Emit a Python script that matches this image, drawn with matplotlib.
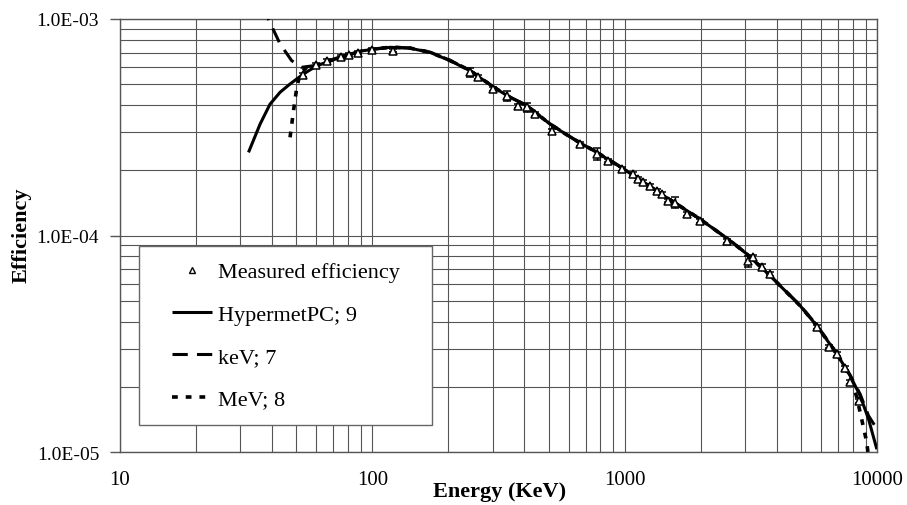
import matplotlib
matplotlib.use("Agg")
import matplotlib.pyplot as plt
from matplotlib.patches import Rectangle
from matplotlib.lines import Line2D
from matplotlib.ticker import FixedLocator, LogLocator, NullFormatter
import numpy as np

plt.rcParams['font.family'] = ['Liberation Serif', 'DejaVu Serif']

# measured efficiency (energy in keV, efficiency, relative error)
meas_e = [53.3, 59.8, 66, 75, 81, 88, 100, 121, 244, 263, 302, 341, 379, 409, 442,
          514, 665, 775, 862, 974, 1083, 1133, 1186, 1261, 1340, 1403, 1490, 1584,
          1762, 1990, 2540, 3090, 3236, 3500, 3767, 5768, 6457, 6930, 7470, 7820, 8490]
meas_eff = [5.51e-4, 6.13e-4, 6.40e-4, 6.70e-4, 6.85e-4, 7.00e-4, 7.20e-4, 7.15e-4,
            5.68e-4, 5.38e-4, 4.75e-4, 4.42e-4, 3.98e-4, 3.91e-4, 3.64e-4, 3.05e-4,
            2.65e-4, 2.38e-4, 2.22e-4, 2.03e-4, 1.92e-4, 1.82e-4, 1.76e-4, 1.70e-4,
            1.61e-4, 1.56e-4, 1.45e-4, 1.42e-4, 1.26e-4, 1.17e-4, 9.47e-5, 7.59e-5,
            7.93e-5, 7.19e-5, 6.64e-5, 3.77e-5, 3.07e-5, 2.84e-5, 2.45e-5, 2.10e-5, 1.72e-5]
meas_rel_err = [0.02, 0.02, 0.02, 0.02, 0.02, 0.02, 0.02, 0.02, 0.05, 0.02, 0.02, 0.05,
                0.02, 0.05, 0.02, 0.02, 0.02, 0.06, 0.02, 0.02, 0.02, 0.02, 0.02, 0.02,
                0.02, 0.02, 0.02, 0.06, 0.02, 0.02, 0.02, 0.06, 0.03, 0.03, 0.02, 0.02,
                0.02, 0.02, 0.02, 0.02, 0.02]

# HypermetPC fit
hyp_e = [32.3, 35.9, 39.3, 43.1, 47.2, 53.3, 60.2, 74.5, 92.1, 117.5, 141, 170, 203, 244,
         302, 351, 409, 506, 626, 775, 988, 1423, 1990, 2618, 3049, 3767, 4955, 5770,
         6930, 7820, 8570, 9250, 9980]
hyp_eff = [2.42e-4, 3.27e-4, 4.04e-4, 4.59e-4, 5.01e-4, 5.57e-4, 6.08e-4, 6.65e-4,
           7.14e-4, 7.40e-4, 7.33e-4, 7.00e-4, 6.42e-4, 5.77e-4, 4.84e-4, 4.35e-4,
           3.98e-4, 3.27e-4, 2.79e-4, 2.42e-4, 2.03e-4, 1.53e-4, 1.19e-4, 9.46e-5,
           8.21e-5, 6.52e-5, 4.74e-5, 3.83e-5, 2.84e-5, 2.25e-5, 1.82e-5, 1.42e-5, 1.03e-5]

# keV fit
kev_e = [37.0, 38.7, 43.1, 47.9, 52.5, 58.2, 74.5, 92.1, 117.5, 141, 170, 203, 244, 302,
         351, 409, 506, 626, 775, 988, 1423, 1990, 2618, 3049, 3767, 4955, 5770, 6930,
         7820, 8570, 9250, 9980]
kev_eff = [1.15e-3, 1.0e-3, 7.66e-4, 6.42e-4, 5.98e-4, 6.08e-4, 6.68e-4, 7.17e-4,
           7.42e-4, 7.35e-4, 7.02e-4, 6.45e-4, 5.79e-4, 4.86e-4, 4.36e-4, 3.99e-4,
           3.28e-4, 2.80e-4, 2.43e-4, 2.04e-4, 1.54e-4, 1.19e-4, 9.48e-5, 8.23e-5,
           6.54e-5, 4.76e-5, 3.85e-5, 2.86e-5, 2.27e-5, 1.85e-5, 1.47e-5, 1.28e-5]

# MeV fit
mev_e = [47.2, 48.7, 50.2, 51.7, 54.9, 60.2, 74.5, 92.1, 117.5, 141, 170, 203, 244, 302,
         351, 409, 506, 626, 775, 988, 1423, 1990, 2618, 3049, 3767, 4955, 5770, 6930,
         7820, 8300, 8710, 9100, 9300]
mev_eff = [2.84e-4, 3.77e-4, 4.84e-4, 5.57e-4, 5.98e-4, 6.10e-4, 6.66e-4, 7.15e-4,
           7.41e-4, 7.34e-4, 7.01e-4, 6.43e-4, 5.78e-4, 4.85e-4, 4.35e-4, 3.98e-4,
           3.27e-4, 2.79e-4, 2.42e-4, 2.03e-4, 1.53e-4, 1.19e-4, 9.46e-5, 8.21e-5,
           6.52e-5, 4.74e-5, 3.83e-5, 2.84e-5, 2.22e-5, 1.80e-5, 1.40e-5, 1.11e-5, 9.0e-6]

y_ticks = [1e-5, 1e-4, 1e-3]
y_labels = ['1.0E-05', '1.0E-04', '1.0E-03']
x_ticks = [10, 100, 1000, 10000]
x_labels = ['10', '100', '1000', '10000']

fig = plt.figure(figsize=(9.07, 5.06), dpi=100)
ax = fig.add_axes([0.1323, 0.1047, 0.8347, 0.8558])
ax.set_xscale('log')
ax.set_yscale('log')
ax.set_xlim(10, 10000)
ax.set_ylim(1e-5, 1e-3)

l_hyp, = ax.plot(hyp_e, hyp_eff, color='black', lw=2.2, solid_capstyle='butt', zorder=3)
l_kev, = ax.plot(kev_e, kev_eff, color='black', lw=2.2, dashes=(5, 3), zorder=3)
l_mev, = ax.plot(mev_e, mev_eff, color='black', lw=2.6, dashes=(1.6, 2.2), zorder=3)

yerr = np.array(meas_eff) * np.array(meas_rel_err)
ax.errorbar(meas_e, meas_eff, yerr=yerr, fmt='^', ms=6, mfc='white', mec='black',
            mew=1.1, ecolor='black', elinewidth=1, capsize=3, zorder=4)

ax.xaxis.set_major_locator(FixedLocator(x_ticks))
ax.set_xticklabels(x_labels)
ax.xaxis.set_minor_locator(LogLocator(base=10, subs=np.arange(2, 10)))
ax.xaxis.set_minor_formatter(NullFormatter())
ax.yaxis.set_major_locator(FixedLocator(y_ticks))
ax.set_yticklabels(y_labels)
ax.yaxis.set_minor_locator(LogLocator(base=10, subs=np.arange(2, 10)))
ax.yaxis.set_minor_formatter(NullFormatter())

ax.tick_params(axis='x', which='both', length=0, pad=13, labelsize=15)
ax.tick_params(axis='y', which='major', length=7, width=1, direction='out', pad=8,
               labelsize=14, color='#555555')
ax.tick_params(axis='y', which='minor', length=0)

ax.grid(True, which='both', color='#555555', lw=0.8)
ax.set_axisbelow(True)
for s in ax.spines.values():
    s.set_color('#555555')
    s.set_linewidth(1)

fig.text(500 / 907, 1 - 492 / 506, 'Energy (KeV)', fontsize=16, fontweight='bold',
         ha='center', va='center')
fig.text(22 / 907, 1 - 235 / 506, 'Efficiency', fontsize=16, fontweight='bold',
         ha='center', va='center', rotation=90)

# legend box
ax.add_patch(Rectangle((0.025, 0.062), 0.387, 0.414, transform=ax.transAxes,
                       facecolor='white', edgecolor='#666666', lw=1, zorder=5))
meas_handle = Line2D([], [], ls='none', marker='^', ms=4.5, mfc='white', mec='black', mew=1)
leg = ax.legend([meas_handle, l_hyp, l_kev, l_mev],
                ['Measured efficiency', 'HypermetPC; 9', 'keV; 7', 'MeV; 8'],
                loc='upper left', bbox_to_anchor=(0.0542, 0.465), frameon=False,
                borderpad=0, fontsize=16, handlelength=1.8, handletextpad=0.27,
                labelspacing=0.98)
leg.set_zorder(6)

fig.savefig('out.png', dpi=100)
